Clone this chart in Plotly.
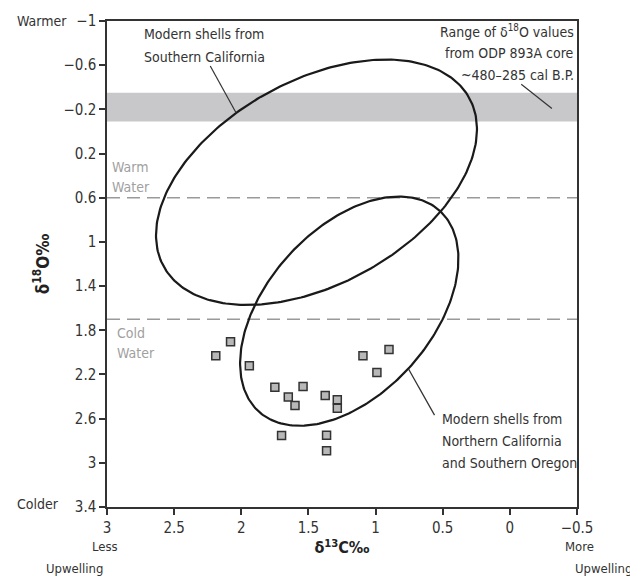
import numpy as np
import plotly.graph_objects as go

# ---- data ----
shell_d13c = [2.19, 2.08, 1.94, 1.75, 1.65, 1.60, 1.54, 1.375, 1.70, 1.365, 1.365, 1.285, 1.285, 1.094, 0.90, 0.99]
shell_d18o = [2.03, 1.905, 2.122, 2.315, 2.405, 2.48, 2.31, 2.39, 2.752, 2.75, 2.891, 2.43, 2.505, 2.03, 1.974, 2.183]

# ellipse parameters (data units): centre x, centre y, semi-major, semi-minor, angle (deg)
south_cal_ellipse = [1.44, 0.46, 1.383, 0.866, 40.2]
north_cal_ellipse = [1.196, 1.627, 1.143, 0.657, 59.2]

odp_band = [-0.35, -0.09]
warm_water_line = 0.6
cold_water_line = 1.7

x_ticks = [3, 2.5, 2, 1.5, 1, 0.5, 0, -0.5]
x_ticktext = ["3", "2.5", "2", "1.5", "1", "0.5", "0", "\u22120.5"]
y_ticks = [-1, -0.6, -0.2, 0.2, 0.6, 1, 1.4, 1.8, 2.2, 2.6, 3, 3.4]
y_ticktext = ["\u22121", "\u22120.6", "\u22120.2", "0.2", "0.6", "1", "1.4", "1.8", "2.2", "2.6", "3", "3.4"]

south_label = ["Modern shells from", "Southern California"]
odp_label = ["Range of \u03b4<sup>18</sup>O values", "from ODP 893A core", "~480\u2013285 cal B.P."]
north_label = ["Modern shells from", "Northern California", "and Southern Oregon"]
warm_label = ["Warm", "Water"]
cold_label = ["Cold", "Water"]

FONT = "DejaVu Sans Condensed, DejaVu Sans, sans-serif"
TXT = "#333333"


def ellipse(params, n=300):
    cx, cy, a, b, ang = params
    t = np.linspace(0, 2 * np.pi, n)
    th = np.radians(ang)
    x = cx + a * np.cos(t) * np.cos(th) - b * np.sin(t) * np.sin(th)
    y = cy + a * np.cos(t) * np.sin(th) + b * np.sin(t) * np.cos(th)
    return x, y


fig = go.Figure()

for p in (south_cal_ellipse, north_cal_ellipse):
    ex, ey = ellipse(p)
    fig.add_trace(go.Scatter(x=ex, y=ey, mode="lines",
                             line=dict(color="#1a1a1a", width=2.2),
                             hoverinfo="skip", showlegend=False))

fig.add_trace(go.Scatter(x=shell_d13c, y=shell_d18o, mode="markers",
                         marker=dict(symbol="square", size=8, color="#b8b8b8",
                                     line=dict(color="#333333", width=1.5)),
                         showlegend=False))

# band and dashed lines
fig.add_shape(type="rect", xref="paper", yref="y", x0=0, x1=1,
              y0=odp_band[0], y1=odp_band[1], fillcolor="#c8c8ca",
              line=dict(width=0), layer="below")
for yv in (warm_water_line, cold_water_line):
    fig.add_shape(type="line", xref="paper", yref="y", x0=0, x1=1, y0=yv, y1=yv,
                  line=dict(color="#9a9a9a", width=1.5, dash="13px,7px"), layer="below")

# leader lines
leaders = [
    (2.231, -0.593, 2.04, -0.171),
    (-0.085, -0.427, -0.313, -0.207),
    (0.754, 2.152, 0.561, 2.568),
]
for x0, y0, x1, y1 in leaders:
    fig.add_shape(type="line", xref="x", yref="y", x0=x0, y0=y0, x1=x1, y1=y1,
                  line=dict(color="#333333", width=1.2))


def label(lines, x, y0, step, anchor, color=TXT, size=14):
    for i, s in enumerate(lines):
        fig.add_annotation(x=x, y=y0 + i * step, xref="x", yref="y", xanchor=anchor,
                           yanchor="middle", showarrow=False, text=s,
                           font=dict(family=FONT, size=size, color=color))


label(south_label, 2.74, -0.886, 0.212, "left")
label(odp_label, -0.49, -0.907, 0.197, "right")
label(north_label, 0.518, 2.605, 0.197, "left")
label(warm_label, 2.975, 0.321, 0.181, "left", color="#a0a0a0")
label(cold_label, 2.94, 1.826, 0.181, "left", color="#a0a0a0")

side = dict(showarrow=False, font=dict(family=FONT, size=14, color=TXT), xref="paper", yref="paper")
side13 = dict(showarrow=False, font=dict(family=FONT, size=13, color=TXT), xref="paper", yref="paper")
fig.add_annotation(x=-0.195, y=1.0, xanchor="left", yanchor="middle", text="Warmer", **side)
fig.add_annotation(x=-0.195, y=0.0056, xanchor="left", yanchor="middle", text="Colder", **side)
fig.add_annotation(x=-0.0036, y=-0.082, xanchor="center", yanchor="middle", text="Less", **side13)
fig.add_annotation(x=-0.004, y=-0.127, xanchor="right", yanchor="middle", text="Upwelling", **side13)
fig.add_annotation(x=1.006, y=-0.082, xanchor="center", yanchor="middle", text="More", **side13)
fig.add_annotation(x=0.992, y=-0.127, xanchor="left", yanchor="middle", text="Upwelling", **side13)

axis_common = dict(showline=True, linecolor="#333333", linewidth=1.5, mirror=True,
                   ticks="outside", ticklen=6, tickwidth=1.5, tickcolor="#333333",
                   showgrid=False, zeroline=False, automargin=False,
                   tickfont=dict(family=FONT, size=15, color=TXT))

fig.update_xaxes(range=[3, -0.5], tickvals=x_ticks, ticktext=x_ticktext,
                 title=dict(text="<b>\u03b4<sup>13</sup>C\u2030</b>", standoff=3,
                            font=dict(family=FONT, size=16, color="#222222")),
                 **axis_common)
fig.update_yaxes(range=[3.4, -1], tickvals=y_ticks, ticktext=y_ticktext,
                 title=dict(text="<b>\u03b4<sup>18</sup>O\u2030</b>", standoff=10,
                            font=dict(family=FONT, size=17, color="#222222")),
                 **axis_common)

# page body adds an 8 px offset, so the figure is sized to fit the window
fig.update_layout(width=630, height=572, plot_bgcolor="white", paper_bgcolor="white",
                  margin=dict(l=99, r=61, t=13, b=73), showlegend=False)

fig.write_html("out.html")
